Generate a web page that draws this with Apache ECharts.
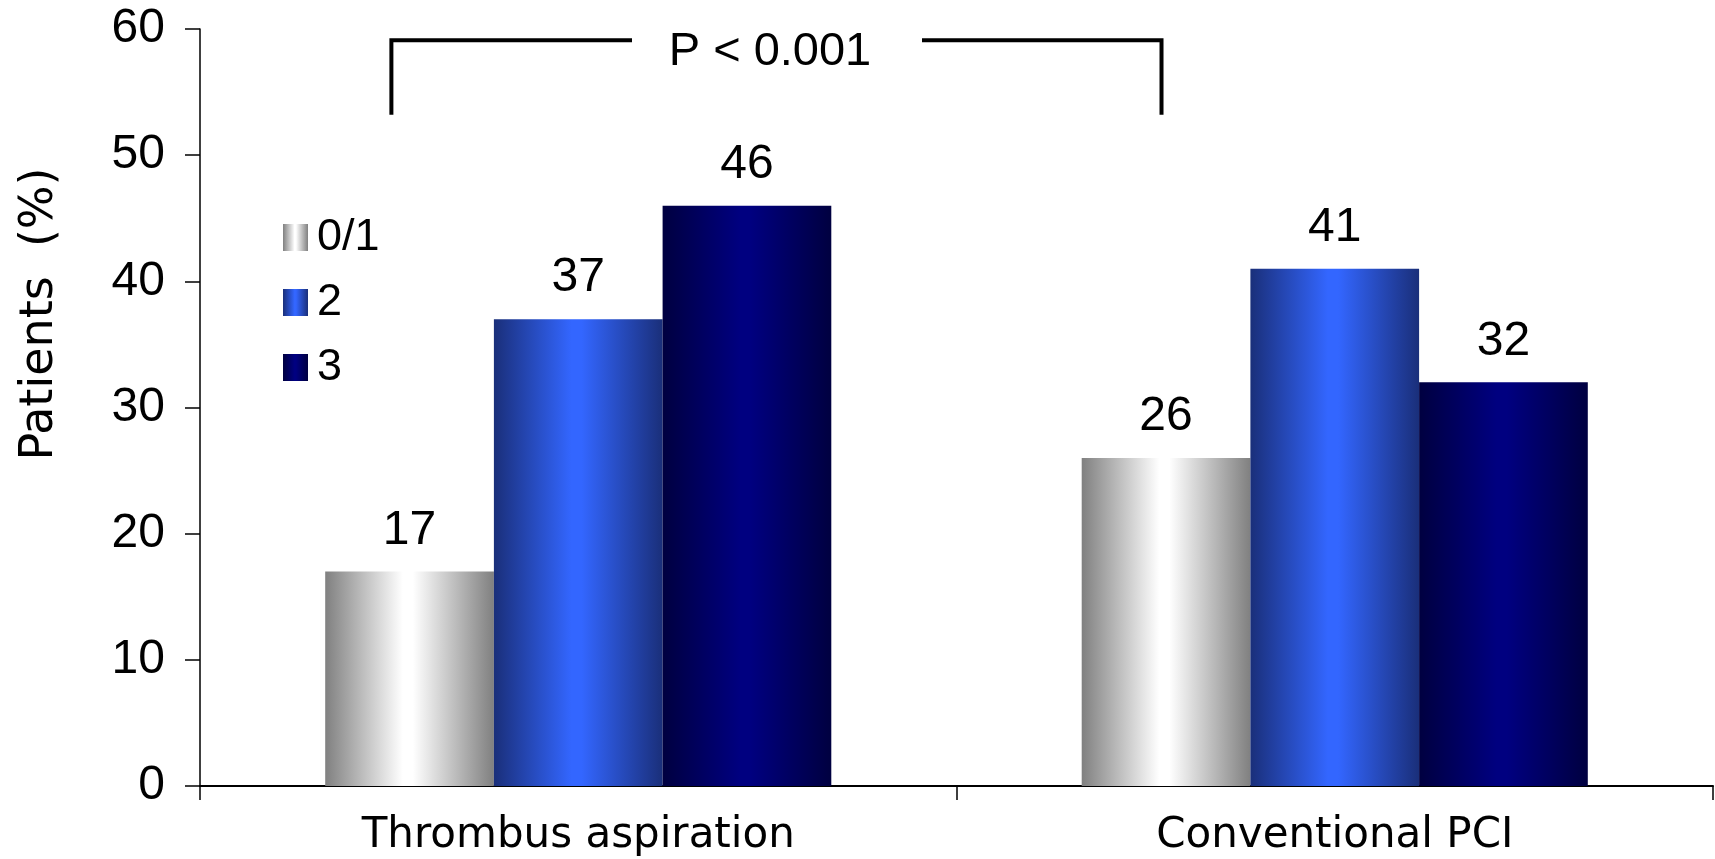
<!DOCTYPE html>
<html>
<head>
<meta charset="utf-8">
<title>Patients (%) by flow grade</title>
<script src="https://cdn.jsdelivr.net/npm/echarts@6/dist/echarts.min.js"></script>
<style>
  html, body { margin: 0; padding: 0; background: #ffffff; }
  #chart { width: 1715px; height: 859px; }
</style>
</head>
<body>
<div id="chart"></div>
<script>
// Groups on the category axis
const categories = ['Thrombus aspiration', 'Conventional PCI'];
// Flow-grade series (legend names) and their values in %
const seriesNames = ['0/1', '2', '3'];
const grade01 = [17, 26];
const grade2 = [37, 41];
const grade3 = [46, 32];
// Y-axis tick range
const yTicks = [0, 10, 20, 30, 40, 50, 60];
// Significance annotation
const pText = 'P < 0.001';
const bracketValues = [53.2, 59.1]; // leg bottom, bar of the bracket
const yAxisTitle = 'Patients  (%)';

const NUM_FONT = '"Liberation Sans", Arial, sans-serif';
const TXT_FONT = '"DejaVu Sans", Verdana, sans-serif';

// Cylinder-like horizontal shading for each series
function shade(edge, mid) {
  return new echarts.graphic.LinearGradient(0, 0, 1, 0, [
    { offset: 0, color: edge },
    { offset: 0.46, color: mid },
    { offset: 0.52, color: mid },
    { offset: 1, color: edge }
  ]);
}
const fills = [
  shade('#808080', '#ffffff'),
  shade('#1a2f7a', '#3366ff'),
  shade('#000040', '#000080')
];
const seriesData = [grade01, grade2, grade3];

const chart = echarts.init(document.getElementById('chart'), null, { renderer: 'canvas' });

const option = {
  animation: false,
  backgroundColor: '#ffffff',
  grid: { left: 200, right: 2, top: 29, bottom: 73, containLabel: false },
  legend: {
    orient: 'vertical',
    left: 278,
    top: 210,
    itemWidth: 25,
    itemHeight: 27,
    itemGap: 20,
    icon: 'rect',
    data: seriesNames,
    textStyle: { fontFamily: NUM_FONT, fontSize: 45, color: '#000', lineHeight: 42, padding: [0, 0, 0, 4] }
  },
  xAxis: {
    type: 'category',
    data: categories,
    axisLine: { lineStyle: { color: '#000', width: 2 } },
    axisTick: { show: true, length: 14, lineStyle: { color: '#000', width: 1.5 } },
    axisLabel: { fontFamily: TXT_FONT, fontSize: 42, color: '#000', margin: 29 },
    splitLine: { show: false }
  },
  yAxis: {
    type: 'value',
    min: yTicks[0],
    max: yTicks[yTicks.length - 1],
    interval: yTicks[1] - yTicks[0],
    axisLine: { show: true, lineStyle: { color: '#000', width: 1.5 } },
    axisTick: { show: true, length: 15, lineStyle: { color: '#000', width: 1.5 } },
    axisLabel: { fontFamily: NUM_FONT, fontSize: 48, color: '#000', margin: 35 },
    splitLine: { show: false }
  },
  series: seriesNames.map((name, i) => ({
    name: name,
    type: 'bar',
    data: seriesData[i],
    barWidth: '22.3%',
    barGap: '0%',
    itemStyle: { color: fills[i] },
    label: {
      show: true,
      position: 'top',
      distance: 17,
      fontFamily: NUM_FONT,
      fontSize: 48,
      color: '#000'
    }
  }))
};
chart.setOption(option);

// Bracket joining the 0/1 bars of both groups, with the P value in a gap of its top bar
function drawAnnotations() {
  const c0 = chart.convertToPixel({ xAxisIndex: 0 }, 0);
  const c1 = chart.convertToPixel({ xAxisIndex: 0 }, 1);
  const band = c1 - c0;
  const xL = c0 - 0.247 * band;
  const xR = c1 - 0.229 * band;
  const yLow = chart.convertToPixel({ yAxisIndex: 0 }, bracketValues[0]);
  const yTop = chart.convertToPixel({ yAxisIndex: 0 }, bracketValues[1]);
  const textX = 770;
  const lineStyle = { stroke: '#000', lineWidth: 4, lineJoin: 'miter', fill: null };
  chart.setOption({
    graphic: [
      {
        type: 'polyline',
        shape: { points: [[xL, yLow], [xL, yTop], [632, yTop]] },
        style: lineStyle
      },
      {
        type: 'polyline',
        shape: { points: [[922, yTop], [xR, yTop], [xR, yLow]] },
        style: lineStyle
      },
      {
        type: 'text',
        x: textX,
        y: 52,
        style: {
          text: pText,
          font: '47px ' + NUM_FONT,
          fill: '#000',
          align: 'center',
          verticalAlign: 'middle'
        }
      },
      {
        type: 'text',
        x: 40,
        y: 314,
        rotation: Math.PI / 2,
        style: {
          text: yAxisTitle,
          font: '46px ' + TXT_FONT,
          fill: '#000',
          align: 'center',
          verticalAlign: 'middle'
        }
      }
    ]
  });
}
drawAnnotations();
</script>
</body>
</html>
